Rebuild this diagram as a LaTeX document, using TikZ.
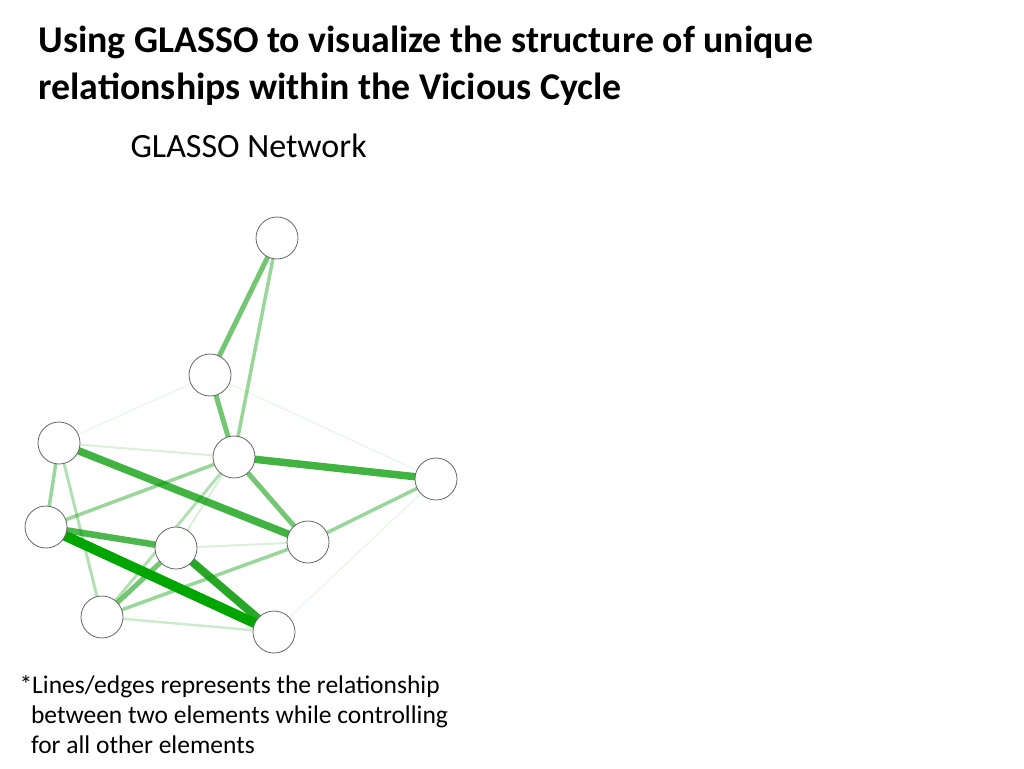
\documentclass[tikz,border=0pt]{standalone}
\usepackage{fontspec}
\setmainfont{Carlito}
\begin{document}
\begin{tikzpicture}[x=1pt,y=-1pt,
  nd/.style={circle,draw=black!60,fill=white,minimum size=42pt,inner sep=0pt,line width=0.8pt},
  e/.style={draw=green!60!black,line cap=round}]
\useasboundingbox (0,0) rectangle (1024,768);
\node[anchor=west,align=left,font=\bfseries\fontsize{37.8}{47}\selectfont] (title) at (35,66) {Using GLASSO to visualize the structure of unique\\relationships within the Vicious Cycle};
\node[anchor=west,font=\fontsize{34}{40}\selectfont] (sub) at (127,146) {GLASSO Network};
\node[anchor=north west,align=left,font=\fontsize{25.5}{30}\selectfont] (note) at (16,672) {*Lines/edges represents the relationship\\\ \ between two elements while controlling\\\ \ for all other elements};
\coordinate (A) at (277,238);
\coordinate (B) at (210,375);
\coordinate (C) at (59,443);
\coordinate (D) at (234,457);
\coordinate (E) at (436,479);
\coordinate (F) at (46,527);
\coordinate (G) at (176,548);
\coordinate (H) at (308,542);
\coordinate (I) at (102,617);
\coordinate (J) at (274,632);
\path[e,draw opacity=0.08,line width=1.5pt] (B)--(C) (B)--(E) (E)--(J);
\path[e,draw opacity=0.15,line width=2pt] (C)--(D) (G)--(H) (D)--(G);
\path[e,draw opacity=0.2,line width=2.5pt] (I)--(J);
\path[e,draw opacity=0.3,line width=3pt] (C)--(I) (D)--(I);
\path[e,draw opacity=0.4,line width=3.5pt] (A)--(D) (C)--(F) (D)--(F) (E)--(H) (I)--(H);
\path[e,draw opacity=0.55,line width=5pt] (A)--(B) (B)--(D) (D)--(H) (I)--(G);
\path[e,draw opacity=0.7,line width=6.5pt] (F)--(G);
\path[e,draw opacity=0.75,line width=7.5pt] (C)--(H) (D)--(E);
\path[e,draw opacity=0.85,line width=8pt] (G)--(J);
\path[draw=green!65!black,line width=10pt] (F)--(J);
\foreach \n in {A,B,C,D,E,F,G,H,I,J} \node[nd] (n\n) at (\n) {};
\end{tikzpicture}
\end{document}
